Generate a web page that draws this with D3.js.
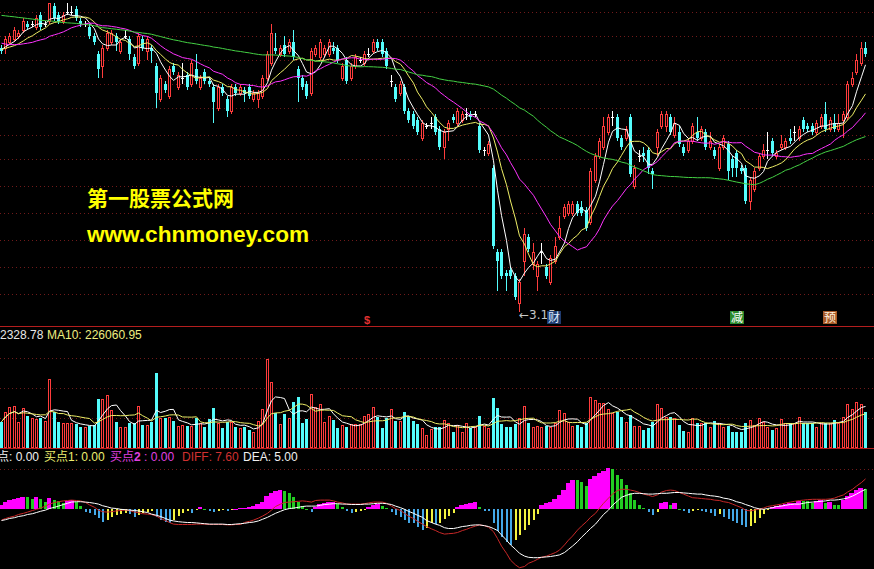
<!DOCTYPE html>
<html><head><meta charset="utf-8">
<script src="https://cdn.jsdelivr.net/npm/d3@7"></script>
<style>html,body{margin:0;padding:0;background:#000;overflow:hidden}svg{display:block}</style>
</head><body>
<svg id="c" width="874" height="569"></svg>
<script>
// ---------- data (prices in yuan, volume in thousand lots) ----------
const candleOpen = [
4.03,4.03,4.05,4.06,4.07,4.09,4.11,4.11,4.10,4.14, 4.11,4.12,4.17,4.14,4.12,4.15,4.15,4.16,4.12,4.11,
4.10,4.07,4.01,3.97,4.03,4.05,4.07,4.02,4.07,4.06, 4.00,3.98,4.06,4.02,4.03,3.97,3.86,3.91,3.87,3.97,
3.90,3.93,3.94,3.91,3.96,3.90,3.95,3.92,3.90,3.83, 3.90,3.86,3.82,3.90,3.88,3.89,3.90,3.86,3.86,3.87,
3.93,3.98,4.03,4.01,4.04,4.02,4.05,3.96,3.93,3.91, 3.88,4.01,4.00,4.01,4.01,4.03,4.03,3.93,3.99,3.93,
3.97,3.99,3.98,4.01,4.02,4.05,4.05,4.02,3.92,3.90, 3.88,3.90,3.82,3.81,3.79,3.73,3.77,3.78,3.80,3.76,
3.70,3.76,3.80,3.78,3.79,3.81,3.81,3.81,3.77,3.69, 3.68,3.63,3.35,3.35,3.28,3.29,3.27,3.18,3.32,3.40,
3.31,3.27,3.35,3.30,3.25,3.32,3.40,3.47,3.48,3.48, 3.51,3.50,3.49,3.45,3.59,3.67,3.70,3.75,3.80,3.80,
3.73,3.73,3.80,3.57,3.67,3.68,3.69,3.62,3.70,3.77, 3.77,3.80,3.74,3.75,3.70,3.69,3.72,3.75,3.73,3.75,
3.70,3.69,3.63,3.70,3.71,3.66,3.68,3.63,3.63,3.52, 3.56,3.63,3.67,3.69,3.72,3.67,3.70,3.70,3.73,3.75,
3.73,3.79,3.77,3.77,3.75,3.77,3.81,3.76,3.78,3.76, 3.79,3.80,3.91,3.95,3.98,4.03];
const candleHigh = [
4.04,4.07,4.08,4.10,4.09,4.13,4.12,4.12,4.14,4.15, 4.12,4.18,4.18,4.15,4.15,4.18,4.17,4.17,4.13,4.12,
4.11,4.08,4.02,4.04,4.09,4.09,4.08,4.06,4.09,4.07, 4.01,4.08,4.07,4.07,4.04,3.98,3.94,3.92,3.97,3.98,
3.95,3.98,3.95,3.99,4.01,3.94,3.96,3.93,3.91,3.91, 3.91,3.87,3.91,3.91,3.91,3.90,3.91,3.89,3.89,3.94,
4.02,4.11,4.08,4.04,4.07,4.06,4.09,3.97,3.94,3.92, 4.03,4.04,4.06,4.04,4.06,4.05,4.04,3.98,4.00,3.98,
4.01,4.00,4.02,4.03,4.06,4.06,4.06,4.03,3.94,3.91, 3.92,3.91,3.83,3.82,3.80,3.79,3.78,3.80,3.81,3.77,
3.76,3.79,3.81,3.83,3.82,3.83,3.82,3.82,3.78,3.70, 3.72,3.64,3.36,3.36,3.29,3.30,3.28,3.26,3.43,3.41,
3.38,3.32,3.38,3.31,3.34,3.40,3.47,3.51,3.52,3.52, 3.52,3.52,3.50,3.63,3.68,3.73,3.80,3.81,3.82,3.81,
3.74,3.77,3.81,3.64,3.69,3.70,3.70,3.63,3.76,3.82, 3.82,3.81,3.80,3.77,3.71,3.73,3.78,3.80,3.77,3.76,
3.75,3.70,3.71,3.74,3.72,3.67,3.69,3.64,3.64,3.60, 3.63,3.68,3.71,3.75,3.73,3.69,3.74,3.73,3.76,3.77,
3.77,3.80,3.78,3.78,3.79,3.81,3.85,3.80,3.81,3.81, 3.82,3.92,3.95,4.01,4.05,4.05];
const candleLow = [
4.01,4.01,4.04,4.05,4.06,4.08,4.09,4.10,4.09,4.09, 4.10,4.11,4.12,4.11,4.11,4.14,4.14,4.12,4.10,4.10,
4.06,4.04,3.93,3.93,4.02,4.04,4.02,4.01,4.06,3.99, 3.96,3.97,4.02,3.99,3.98,3.83,3.85,3.88,3.86,3.94,
3.89,3.91,3.89,3.90,3.91,3.89,3.91,3.90,3.78,3.82, 3.87,3.80,3.81,3.87,3.87,3.85,3.86,3.85,3.83,3.86,
3.92,3.97,4.01,4.00,4.00,4.01,3.99,3.85,3.89,3.86, 3.87,4.00,3.99,4.00,4.00,4.01,3.98,3.92,3.91,3.92,
3.96,3.98,3.97,4.00,4.01,4.02,4.00,3.96,3.90,3.85, 3.87,3.81,3.78,3.76,3.74,3.72,3.76,3.76,3.74,3.69,
3.66,3.72,3.78,3.77,3.78,3.79,3.79,3.80,3.68,3.67, 3.67,3.36,3.22,3.26,3.22,3.26,3.19,3.15,3.27,3.35,
3.29,3.22,3.31,3.26,3.24,3.31,3.39,3.46,3.47,3.47, 3.47,3.47,3.42,3.44,3.58,3.66,3.69,3.74,3.77,3.72,
3.69,3.72,3.60,3.56,3.65,3.65,3.61,3.56,3.67,3.76, 3.75,3.74,3.73,3.70,3.67,3.68,3.71,3.72,3.72,3.69,
3.69,3.66,3.62,3.69,3.59,3.60,3.60,3.61,3.51,3.49, 3.55,3.62,3.66,3.66,3.67,3.66,3.69,3.69,3.71,3.72,
3.72,3.75,3.75,3.74,3.74,3.76,3.75,3.75,3.75,3.75, 3.73,3.79,3.90,3.94,3.97,4.00];
const candleClose = [
4.02,4.06,4.07,4.09,4.08,4.12,4.10,4.11,4.13,4.10, 4.11,4.18,4.13,4.12,4.14,4.15,4.15,4.13,4.11,4.11,
4.07,4.05,3.96,4.03,4.08,4.08,4.05,4.05,4.07,4.01, 3.97,4.07,4.03,4.06,4.02,3.88,3.93,3.89,3.96,3.95,
3.94,3.93,3.90,3.98,3.92,3.93,3.92,3.91,3.85,3.90, 3.88,3.82,3.90,3.88,3.90,3.88,3.87,3.88,3.88,3.93,
4.01,4.08,4.02,4.03,4.01,4.05,4.00,3.93,3.90,3.87, 4.02,4.03,4.05,4.03,4.05,4.02,3.99,3.97,3.92,3.97,
4.00,3.99,4.01,4.01,4.05,4.03,4.01,3.97,3.92,3.86, 3.91,3.82,3.79,3.77,3.75,3.78,3.77,3.78,3.75,3.70,
3.75,3.78,3.79,3.82,3.81,3.81,3.80,3.81,3.69,3.69, 3.71,3.37,3.32,3.27,3.27,3.27,3.20,3.25,3.41,3.36,
3.35,3.31,3.35,3.27,3.33,3.37,3.43,3.50,3.51,3.51, 3.48,3.48,3.43,3.62,3.67,3.72,3.77,3.80,3.80,3.73,
3.70,3.76,3.61,3.63,3.67,3.67,3.63,3.61,3.75,3.81, 3.81,3.75,3.78,3.71,3.68,3.72,3.77,3.73,3.76,3.70,
3.72,3.67,3.70,3.73,3.62,3.63,3.63,3.62,3.52,3.59, 3.62,3.67,3.69,3.69,3.68,3.68,3.71,3.72,3.72,3.75,
3.76,3.76,3.76,3.75,3.78,3.80,3.76,3.79,3.76,3.78, 3.81,3.91,3.93,3.99,4.03,4.01];
// closes before the visible window (estimated from where the moving averages start)
const closesBeforeView = [
4.15,4.17,4.19,4.20,4.22,4.21,4.23,4.24,4.22,4.20, 4.21,4.23,4.25,4.24,4.22,4.20,4.19,4.21,4.22,4.20,
4.18,4.17,4.19,4.20,4.18,4.16,4.15,4.17,4.18,4.16, 4.14,4.15,4.17,4.16,4.14,4.13,4.15,4.16,4.14,4.12,
4.12,4.10,4.09,4.08,4.07,4.06,4.05,4.04,4.03,4.03, 4.02,4.03,4.04,4.02,4.02, 4.01,4.03,4.04,4.02];
const volume = [
158,214,248,252,158,238,192,178,172,178, 164,414,218,158,152,152,152,144,124,124,
132,138,294,294,318,228,156,128,128,152, 148,252,138,138,158,448,182,178,188,162,
132,138,132,132,178,148,128,172,242,152, 118,158,158,128,118,124,108,94,162,234,
534,394,208,144,204,182,274,304,152,174, 322,244,264,158,192,168,122,138,124,142,
142,142,192,204,244,184,122,178,232,164, 162,214,192,164,142,122,78,112,128,128,
168,148,98,138,98,148,118,128,192,132, 118,298,238,144,128,124,144,178,254,152,
128,132,128,132,128,148,228,208,158,132, 138,124,148,304,288,268,268,234,208,218,
188,154,198,132,132,108,122,158,264,242, 188,188,178,138,104,98,178,152,148,152,
124,162,152,128,132,98,98,98,148,168, 138,182,158,128,108,118,174,148,148,148,
184,152,148,148,128,148,148,148,168,152, 184,262,234,274,262,214];
const histValues = [
1.1,1.9,2.3,2.6,2.8,3.2,3.0,2.7,3.2,2.5, 1.9,2.9,2.3,2.0,1.5,2.2,2.3,1.8,0.8,-0.6,
-1.0,-1.5,-2.2,-3.1,-2.7,-2.0,-1.5,-1.2,-0.8,-1.2, -2.0,-1.4,-0.8,-0.6,-0.3,-1.8,-2.7,-3.1,-3.3,-2.7,
-1.7,-1.0,-0.4,-0.8,-0.2,0.5,0.2,-0.3,-0.7,-0.3, -0.2,-0.5,-0.1,0.2,0.3,0.4,0.6,0.8,1.3,1.9,
3.3,4.2,4.7,4.8,4.6,4.0,3.2,1.9,0.8,0.2, -0.6,0.7,1.3,1.5,1.8,1.9,1.3,0.7,-0.4,-0.8,
-0.6,-0.4,-0.2,0.7,1.0,1.3,0.8,0.4,-0.6,-1.3, -2.0,-2.7,-3.3,-3.5,-4.5,-5.2,-4.7,-3.5,-3.7,-3.3,
-2.3,-1.7,-1.0,0.7,1.1,1.3,1.7,1.8,0.7,-0.3, -0.5,-3.5,-5.3,-6.8,-8.1,-8.9,-7.7,-6.4,-5.2,-3.9,
-2.7,-1.2,1.1,1.5,1.9,2.5,3.6,4.8,6.7,7.4, 7.3,6.9,5.8,7.5,8.3,9.0,9.7,10.3,10.2,8.5,
7.5,6.1,4.0,2.3,1.1,0.3,-0.6,-1.4,-0.6,1.5, 1.9,1.1,1.5,0.2,-0.4,-0.8,-0.3,-0.2,-0.4,-0.7,
-1.0,-1.7,-1.2,-1.8,-2.4,-2.8,-3.3,-3.9,-4.5,-4.2, -3.5,-2.2,-1.2,-0.2,0.5,0.8,1.1,1.3,1.5,1.7,
2.2,2.1,2.0,1.5,2.2,2.3,1.5,1.8,1.1,1.0, 2.3,3.3,4.0,4.8,5.3,5.2];
const diffValues = [
-2.7,-2.3,-2.0,-1.7,-1.3,-1.0,-0.7,-0.3,0.0,0.3, 0.8,1.3,1.7,1.9,2.1,2.2,2.3,2.2,2.1,1.7,
1.1,0.5,-0.2,-0.6,-0.7,-0.6,-0.4,-0.3,-0.2,-0.3, -0.7,-0.8,-1.1,-1.2,-1.3,-1.7,-2.3,-2.8,-3.3,-3.7,
-3.8,-3.8,-3.8,-3.8,-3.7,-3.7,-3.7,-3.8,-3.8,-3.8, -3.8,-3.9,-3.9,-3.8,-3.8,-3.3,-3.0,-2.7,-2.2,-1.7,
-1.0,-0.2,0.7,1.3,1.7,1.8,1.9,2.0,2.1,2.0, 1.8,2.2,2.3,2.3,2.3,2.1,1.8,1.6,1.3,1.3,
1.3,1.3,1.4,1.6,1.8,1.8,1.8,1.5,0.8,0.2, -0.3,-1.0,-1.7,-2.3,-3.0,-3.7,-4.3,-4.9,-5.3,-5.8,
-6.2,-6.1,-6.0,-5.8,-5.3,-5.0,-4.6,-4.2,-3.9,-4.1, -4.5,-5.6,-7.3,-9.2,-11.0,-12.7,-13.9,-14.6,-14.3,-13.5,
-13.0,-12.5,-12.0,-11.7,-11.3,-10.8,-10.2,-8.9,-7.7,-6.7, -5.2,-4.2,-3.1,-2.0,-1.0,0.3,1.5,2.8,3.8,4.7,
5.0,5.0,4.8,4.6,4.2,3.8,3.5,3.2,3.6,4.3, 4.7,4.8,4.7,4.2,3.8,3.3,2.9,2.8,2.7,2.6,
2.5,2.3,2.2,1.9,1.7,1.3,0.9,0.4,-0.2,-0.4, -0.2,0.1,0.3,0.7,0.9,1.1,1.3,1.6,1.8,2.0,
2.2,2.3,2.4,2.5,2.5,2.5,2.5,2.6,2.8,3.2, 3.6,4.3,5.0,5.8,6.7,7.6];
const deaValues = [
-2.8,-2.6,-2.3,-2.1,-1.8,-1.6,-1.3,-1.1,-0.8,-0.5, -0.2,0.2,0.5,0.8,1.2,1.5,1.8,1.9,1.9,1.8,
1.7,1.5,1.3,0.9,0.6,0.3,0.2,0.0,-0.1,-0.2, -0.3,-0.4,-0.6,-0.8,-1.2,-1.5,-1.8,-2.3,-2.7,-2.9,
-3.1,-3.2,-3.3,-3.3,-3.4,-3.5,-3.6,-3.7,-3.7,-3.7, -3.7,-3.8,-3.8,-3.7,-3.6,-3.5,-3.3,-3.2,-2.9,-2.5,
-2.0,-1.5,-1.0,-0.5,-0.1,0.2,0.3,0.5,0.7,0.8, 0.8,0.8,1.0,1.2,1.3,1.4,1.4,1.3,1.3,1.2,
1.2,1.2,1.3,1.3,1.4,1.5,1.5,1.4,1.2,0.8, 0.4,0.0,-0.5,-1.0,-1.5,-2.0,-2.8,-3.3,-3.7,-4.0,
-4.6,-4.8,-4.8,-4.6,-4.3,-4.2,-4.0,-3.9,-3.9,-4.1, -4.3,-4.8,-5.3,-6.4,-7.7,-8.9,-10.0,-11.0,-11.7,-12.0,
-12.1,-12.1,-12.0,-11.9,-11.8,-11.6,-11.4,-10.8,-10.0,-9.2, -8.1,-7.0,-5.8,-4.8,-3.7,-2.5,-1.3,-0.2,1.0,2.1,
3.0,3.5,3.8,4.0,4.0,3.9,3.8,3.8,3.9,4.0, 4.0,4.1,4.2,4.2,4.1,4.0,3.9,3.8,3.8,3.6,
3.4,3.3,3.1,2.8,2.6,2.3,1.9,1.6,1.2,0.8, 0.4,0.1,0.0,0.2,0.4,0.7,0.8,1.0,1.2,1.3,
1.3,1.5,1.7,1.8,1.9,2.0,2.1,2.3,2.3,2.4, 2.6,2.8,3.3,3.8,4.5,5.0];
const priceGrid = [4.15,4.07,3.99,3.91,3.83,3.74,3.66,3.57,3.48,3.39,3.30,3.21];
const volumeGrid = [180,360,540];
const macdGrid = [10];
const priceMAs = [{n:5,color:"#ffffff"},{n:10,color:"#eeee66"},{n:20,color:"#ff33ff"},{n:60,color:"#44d044"}];
const volumeMAs = [{n:5,color:"#ffffff"},{n:10,color:"#eeee66"}];

// ---------- scales ----------
const N = candleClose.length;
const svg = d3.select("#c");
const x = d3.scaleLinear().domain([0, N - 1]).range([0.5, 865]);
const cxOf = i => Math.round(x(i));
const yP = d3.scaleLinear().domain([3.15, 4.19]).range([312, 0]);
const yV = d3.scaleLinear().domain([0, 732]).range([448, 326]);
const yM = d3.scaleLinear().domain([-15, 10]).range([569.3, 469.3]);
const RED = "#ff3c3c", CYAN = "#54fcfc", GRID = "#701a1a";

svg.append("rect").attr("width", 874).attr("height", 569).attr("fill", "#000");

function hGrid(vals, scale) {
  svg.append("g").selectAll("line").data(vals).join("line")
    .attr("x1", 0).attr("x2", 874)
    .attr("y1", d => Math.round(scale(d)) + 0.5).attr("y2", d => Math.round(scale(d)) + 0.5)
    .attr("stroke", GRID).attr("stroke-dasharray", "1,3");
}
hGrid(priceGrid, yP); hGrid(volumeGrid, yV); hGrid(macdGrid, yM);

svg.append("g").selectAll("line").data([326.5, 448.5]).join("line")
  .attr("x1", 0).attr("x2", 874).attr("y1", d => d).attr("y2", d => d)
  .attr("stroke", "#b41e1e");

// ---------- candles ----------
const candles = d3.range(N).map(i => ({i, o: candleOpen[i], h: candleHigh[i], l: candleLow[i], c: candleClose[i]}));
const gC = svg.append("g");
candles.forEach(d => {
  const cx = cxOf(d.i);
  const top = Math.round(yP(Math.max(d.o, d.c))), bot = Math.round(yP(Math.min(d.o, d.c)));
  const yh = Math.round(yP(d.h)), yl = Math.round(yP(d.l));
  if (d.c > d.o) {
    if (yh < top) gC.append("line").attr("x1", cx + 0.5).attr("x2", cx + 0.5).attr("y1", yh).attr("y2", top).attr("stroke", RED);
    if (yl > bot) gC.append("line").attr("x1", cx + 0.5).attr("x2", cx + 0.5).attr("y1", bot).attr("y2", yl).attr("stroke", RED);
    gC.append("rect").attr("x", cx - 0.5).attr("y", top + 0.5).attr("width", 2).attr("height", Math.max(0, bot - top))
      .attr("fill", "#000").attr("stroke", RED);
  } else if (d.c < d.o) {
    gC.append("line").attr("x1", cx + 0.5).attr("x2", cx + 0.5).attr("y1", yh).attr("y2", yl).attr("stroke", CYAN);
    gC.append("rect").attr("x", cx - 1).attr("y", top).attr("width", 3).attr("height", Math.max(1, bot - top)).attr("fill", CYAN);
  } else {
    gC.append("line").attr("x1", cx + 0.5).attr("x2", cx + 0.5).attr("y1", yh).attr("y2", yl).attr("stroke", "#fff");
    gC.append("line").attr("x1", cx - 1).attr("x2", cx + 2).attr("y1", top + 0.5).attr("y2", top + 0.5).attr("stroke", "#fff");
  }
});

// ---------- moving averages ----------
function movingAvg(values, n, before) {
  const all = before.concat(values);
  return values.map((_, i) => {
    const end = before.length + i;
    return d3.mean(all.slice(Math.max(0, end - n + 1), end + 1));
  });
}
svg.append("clipPath").attr("id", "mainClip").append("rect").attr("width", 874).attr("height", 325);
const gMA = svg.append("g").attr("clip-path", "url(#mainClip)");
priceMAs.forEach(m => {
  const vals = movingAvg(candleClose, m.n, closesBeforeView);
  gMA.append("path").datum(vals).attr("fill", "none").attr("stroke", m.color).attr("stroke-width", 1)
    .attr("d", d3.line().x((d, i) => cxOf(i) + 0.5).y(d => yP(d)));
});

// ---------- main panel texts ----------
svg.append("text").attr("x", 87).attr("y", 206).attr("fill", "#ffff00")
  .attr("font-family", "'Noto Sans CJK SC', sans-serif").attr("font-weight", "bold").attr("font-size", 21)
  .text("第一股票公式网");
svg.append("text").attr("x", 87).attr("y", 242).attr("fill", "#ffff00")
  .attr("font-family", "'Liberation Sans', Arial, sans-serif").attr("font-weight", "bold").attr("font-size", 22)
  .attr("textLength", 222).attr("lengthAdjust", "spacingAndGlyphs")
  .text("www.chnmoney.com");
svg.append("text").attr("x", 367).attr("y", 324).attr("text-anchor", "middle").attr("fill", "#e03232")
  .attr("font-family", "'Liberation Sans', Arial, sans-serif").attr("font-weight", "bold").attr("font-size", 11).text("$");
const lowIdx = d3.minIndex(candleLow);
svg.append("text").attr("x", cxOf(lowIdx)).attr("y", 319).attr("fill", "#c8c8c8")
  .attr("font-family", "'DejaVu Sans', sans-serif").attr("font-size", 12)
  .text("←" + d3.format(".2f")(candleLow[lowIdx]));
const badges = [{x: 547, t: "财", bg: "#1e3a6e", fg: "#dde8ff"}, {x: 730, t: "减", bg: "#2b8a2b", fg: "#ffffff"}, {x: 823, t: "预", bg: "#a85a28", fg: "#fff0dd"}];
const gB = svg.append("g").selectAll("g").data(badges).join("g");
gB.append("rect").attr("x", d => d.x).attr("y", 311).attr("width", 14).attr("height", 13).attr("fill", d => d.bg);
gB.append("text").attr("x", d => d.x + 7).attr("y", 322).attr("text-anchor", "middle").attr("fill", d => d.fg)
  .attr("font-family", "'Noto Sans CJK SC', sans-serif").attr("font-size", 12).text(d => d.t);

// ---------- volume ----------
const gV = svg.append("g");
candles.forEach(d => {
  const cx = cxOf(d.i), top = Math.round(yV(volume[d.i])), bot = Math.round(yV(0));
  if (d.c >= d.o) {
    gV.append("rect").attr("x", cx - 0.5).attr("y", top + 0.5).attr("width", 2).attr("height", Math.max(0, bot - top - 1))
      .attr("fill", "#000").attr("stroke", RED);
  } else {
    gV.append("rect").attr("x", cx - 1).attr("y", top).attr("width", 3).attr("height", bot - top).attr("fill", CYAN);
  }
});
volumeMAs.forEach(m => {
  const vals = movingAvg(volume, m.n, []);
  svg.append("path").datum(vals).attr("fill", "none").attr("stroke", m.color)
    .attr("d", d3.line().x((d, i) => cxOf(i) + 0.5).y(d => yV(d)));
});
const FONT = "'Liberation Sans', Arial, sans-serif";
svg.append("text").attr("x", 0).attr("y", 338.5).attr("fill", "#e8e8e8").attr("font-family", FONT).attr("font-size", 12).text("2328.78");
svg.append("text").attr("x", 47).attr("y", 338.5).attr("fill", "#eeee80").attr("font-family", FONT).attr("font-size", 12).text("MA10: 226060.95");

// ---------- MACD-like panel ----------
const gH = svg.append("g");
histValues.forEach((v, i) => {
  const prev = i > 0 ? histValues[i - 1] : 0;
  let color, w;
  if (v >= 0) { if (v >= prev) { color = "#ff00ff"; w = 0; } else { color = "#22cc22"; w = 3; } }
  else { if (v <= prev) { color = "#44a8e8"; w = 2; } else { color = "#f2f240"; w = 2; } }
  const cx = cxOf(i);
  let x0, x1;
  if (w === 0) { x0 = Math.round(x(i - 0.5)); x1 = Math.round(x(i + 0.5)); }
  else { x0 = cx - (w === 3 ? 1 : 0); x1 = x0 + w; }
  const y0 = Math.round(yM(0)), y1 = Math.round(yM(v));
  gH.append("rect").attr("x", x0).attr("width", x1 - x0).attr("y", Math.min(y0, y1)).attr("height", Math.max(1, Math.abs(y1 - y0)))
    .attr("fill", color);
});
[{vals: diffValues, color: "#c82828"}, {vals: deaValues, color: "#ffffff"}].forEach(s => {
  svg.append("path").datum(s.vals).attr("fill", "none").attr("stroke", s.color)
    .attr("d", d3.line().x((d, i) => cxOf(i) + 0.5).y(d => yM(d)));
});
const hdr = [
  {x: -3, t: "点: 0.00", c: "#f0f0f0"},
  {x: 44, t: "买点1: 0.00", c: "#eeee70"},
  {x: 182, t: "DIFF: 7.60", c: "#d03030"},
  {x: 243, t: "DEA: 5.00", c: "#f0f0f0"}];
svg.append("g").selectAll("text").data(hdr).join("text")
  .attr("x", d => d.x).attr("y", 461).attr("fill", d => d.c)
  .attr("font-family", "'Liberation Sans', 'Noto Sans CJK SC', sans-serif").attr("font-size", 12).text(d => d.t);
const t2 = svg.append("text").attr("x", 110).attr("y", 461).attr("fill", "#e040e0")
  .attr("font-family", "'Liberation Sans', 'Noto Sans CJK SC', sans-serif").attr("font-size", 12);
t2.append("tspan").text("买点");
t2.append("tspan").attr("font-weight", "bold").text("2");
t2.append("tspan").text(" : 0.00");
</script>
</body></html>
